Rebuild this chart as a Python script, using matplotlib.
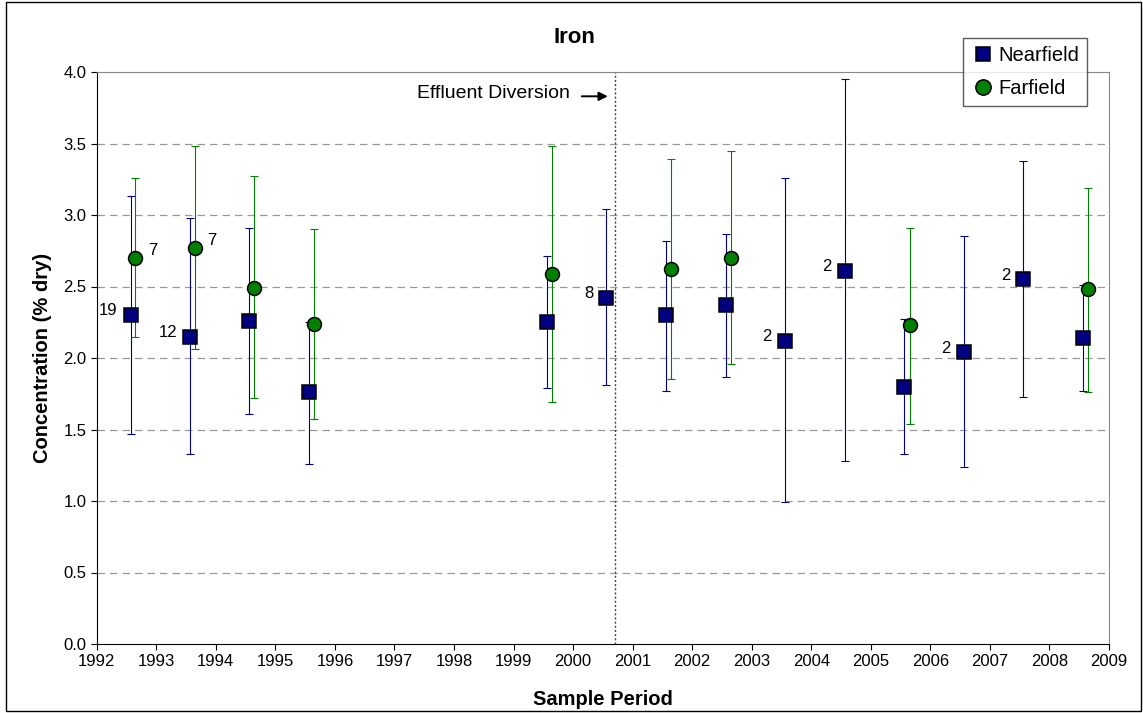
import matplotlib.pyplot as plt
from matplotlib.patches import Rectangle

plt.rcParams['font.family'] = ['Liberation Sans', 'DejaVu Sans']

# Nearfield
near_x = [1992.57, 1993.57, 1994.56, 1995.57, 1999.56, 2000.56, 2001.56,
          2002.56, 2003.56, 2004.56, 2005.56, 2006.56, 2007.56, 2008.56]
near_y = [2.30, 2.15, 2.26, 1.76, 2.25, 2.42, 2.30, 2.37, 2.12, 2.61, 1.80, 2.04, 2.55, 2.14]
near_hi = [3.13, 2.98, 2.91, 2.25, 2.71, 3.04, 2.82, 2.87, 3.26, 3.95, 2.27, 2.85, 3.38, 2.51]
near_lo = [1.47, 1.33, 1.61, 1.26, 1.79, 1.81, 1.77, 1.87, 0.99, 1.28, 1.33, 1.24, 1.73, 1.77]
near_n = [19, 12, None, None, None, 8, None, None, 2, 2, None, 2, 2, None]

# Farfield
far_x = [1992.65, 1993.65, 1994.64, 1995.65, 1999.65, 2001.65, 2002.65, 2005.65, 2008.65]
far_y = [2.70, 2.77, 2.49, 2.24, 2.59, 2.62, 2.70, 2.23, 2.48]
far_hi = [3.26, 3.48, 3.27, 2.90, 3.48, 3.39, 3.45, 2.91, 3.19]
far_lo = [2.15, 2.06, 1.72, 1.57, 1.69, 1.85, 1.96, 1.54, 1.76]
far_n = [7, 7, None, None, None, None, None, None, None]

diversion_year = 2000.7
years = list(range(1992, 2010))
y_ticks = [0.0, 0.5, 1.0, 1.5, 2.0, 2.5, 3.0, 3.5, 4.0]

fig = plt.figure(figsize=(11.43, 7.13), dpi=100)
ax = fig.add_axes([96.7 / 1143, 69 / 713, (1109 - 96.7) / 1143, (644 - 72) / 713])

for t in y_ticks[1:-1]:
    ax.axhline(t, color='#999999', linestyle=(0, (6, 4)), linewidth=0.9, zorder=0)

def yerr(y, lo, hi):
    return [[v - l for v, l in zip(y, lo)], [h - v for v, h in zip(y, hi)]]

ax.errorbar(near_x, near_y, yerr=yerr(near_y, near_lo, near_hi), fmt='none',
            ecolor='#000080', elinewidth=0.8, capsize=3.2, capthick=0.8, zorder=2)
ax.errorbar(far_x, far_y, yerr=yerr(far_y, far_lo, far_hi), fmt='none',
            ecolor='#008000', elinewidth=0.8, capsize=3.2, capthick=0.8, zorder=2)
ax.plot(near_x, near_y, 's', color='#000080', markeredgecolor='black',
        markeredgewidth=1.1, markersize=9.5, label='Nearfield', zorder=3)
ax.plot(far_x, far_y, 'o', color='#008000', markeredgecolor='black',
        markeredgewidth=1.1, markersize=10, label='Farfield', zorder=3)

for x, y, n in zip(near_x, near_y, near_n):
    if n is not None:
        ax.annotate(str(n), (x, y), xytext=(-9.5, 3), textcoords='offset points',
                    ha='right', va='center', fontsize=12)
for x, y, n in zip(far_x, far_y, far_n):
    if n is not None:
        ax.annotate(str(n), (x, y), xytext=(9, 5), textcoords='offset points',
                    ha='left', va='center', fontsize=12)

ax.axvline(diversion_year, color='#444444', linestyle=(0, (1.5, 1.5)), linewidth=1.0, zorder=1)
ax.text(1999.94, 3.85, 'Effluent Diversion', ha='right', va='center', fontsize=14)
ax.annotate('', xy=(2000.63, 3.83), xytext=(2000.1, 3.83),
            arrowprops=dict(arrowstyle='-|>', color='black', lw=1.4, mutation_scale=13))

ax.set_xlim(1992, 2009)
ax.set_ylim(0, 4.0)
ax.set_xticks(years)
ax.set_yticks(y_ticks)
ax.set_yticklabels(['{:.1f}'.format(t) for t in y_ticks])
ax.tick_params(direction='out', length=4, width=0.8, labelsize=12, colors='black')

ax.spines['top'].set_color('#888888')
ax.spines['right'].set_color('#888888')
ax.spines['left'].set_color('black')
ax.spines['bottom'].set_color('black')

fig.text(574 / 1143, 1 - 37.5 / 713, 'Iron', ha='center', va='center',
         fontsize=16, fontweight='bold')
ax.set_ylabel('Concentration (% dry)', fontsize=14.5, fontweight='bold', labelpad=8)
ax.set_xlabel('Sample Period', fontsize=14.5, fontweight='bold', labelpad=15)

leg = fig.legend(loc='upper right', bbox_to_anchor=(1087 / 1143, 1 - 38 / 713),
                 borderaxespad=0, fancybox=False, edgecolor='#333333', fontsize=14.5,
                 handletextpad=0.15, handlelength=1.2, borderpad=0.4, labelspacing=0.7,
                 markerscale=1.1)
leg.get_frame().set_linewidth(1.0)

fig.patches.append(Rectangle((6 / 1143, 2 / 713), 1135 / 1143, 709 / 713,
                             transform=fig.transFigure, fill=False,
                             edgecolor='black', linewidth=1.0))

fig.savefig('out.png', dpi=100)
